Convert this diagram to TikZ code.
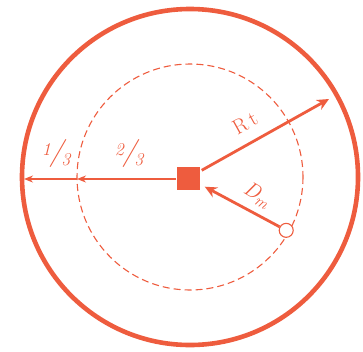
\documentclass[tikz,border=0pt]{standalone}
\usepackage{fontspec}
\usetikzlibrary{arrows.meta,calc}
\definecolor{ink}{RGB}{238,92,62}
\newcommand{\myfrac}[2]{{\fontsize{18}{18}\selectfont\raisebox{5pt}{#1}\kern-1.5pt{\fontsize{28}{28}\selectfont/}\kern-2pt\raisebox{-5pt}{#2}}}
\begin{document}
\begin{tikzpicture}[x=1pt,y=-1pt,
  every node/.style={text=ink},
  thinarrow/.style={draw=ink,line width=1.4pt,-{Stealth[length=9pt,width=7pt]}},
  thickarrow/.style={draw=ink,line width=2.8pt,-{Stealth[length=12pt,width=11pt]}},
  lbl/.style={font=\fontsize{21}{21}\selectfont,inner sep=1pt}]
\useasboundingbox (0,0) rectangle (363,351);
\coordinate (c) at (190,177);
\draw[ink,line width=4.6pt] (c) circle[radius=168];
\draw[ink,line width=1.1pt,dash pattern=on 7pt off 4pt] (c) circle[radius=113];
\node[fill=ink,minimum size=23pt,inner sep=0pt] (sq) at (188,178) {};
\node[circle,draw=ink,fill=white,line width=1.1pt,minimum size=14pt,inner sep=0pt] (pm) at ($(c)+(29:110)$) {};
\coordinate (d) at (77,179);
\coordinate (o) at (24,179);
\coordinate (rt) at (329,99);
\draw[thinarrow] (sq.west|-d) -- (d);
\draw[thinarrow] (d) -- (o);
\draw[thickarrow] ($(sq.north east)+(2,4)$) -- (rt);
\draw[thickarrow] (pm) -- ($(sq.south east)+(5,-3)$);
\node[lbl,font=\itshape] (t13) at (56,153) {\myfrac{1}{3}};
\node[lbl,font=\itshape] (t23) at (129,153) {\myfrac{2}{3}};
\node[lbl,rotate=29] (trt) at (245,123) {R\,t};
\node[lbl,font=\fontsize{21}{21}\selectfont\itshape,rotate=-31] (tdm) at (257,195) {D\raisebox{-4pt}{\fontsize{16}{16}\selectfont m}};
\end{tikzpicture}
\end{document}
